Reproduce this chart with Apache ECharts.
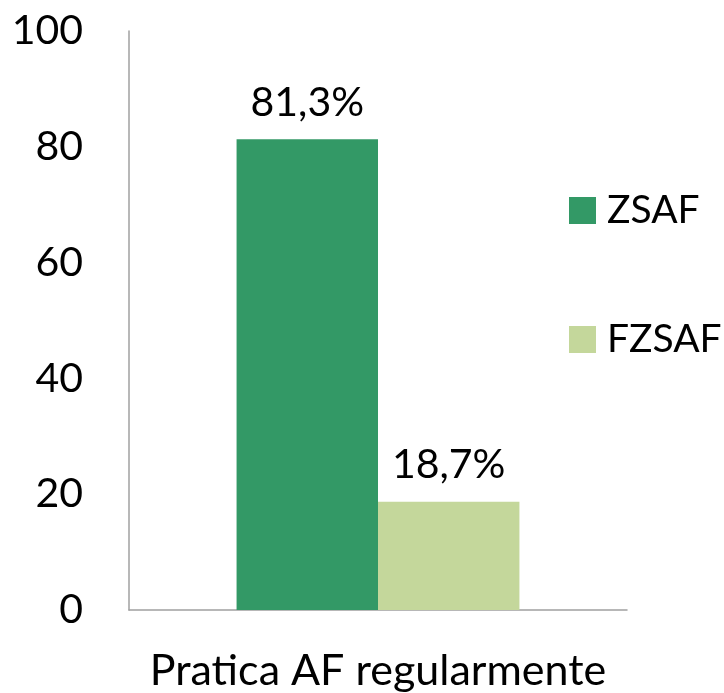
<!DOCTYPE html>
<html><head><meta charset="utf-8">
<script src="https://cdn.jsdelivr.net/npm/echarts@6/dist/echarts.min.js"></script>
<style>html,body{margin:0;padding:0;background:#fff}#c{width:724px;height:693px}</style>
</head><body><div id="c"></div>
<script>
var categories = ['Pratica AF regularmente'];
var seriesNames = ['ZSAF', 'FZSAF'];
var zsafValues = [81.3];
var fzsafValues = [18.7];
var yTicks = [0, 20, 40, 60, 80, 100];

var FONT = 'Lato';
var chart = echarts.init(document.getElementById('c'));
function fmt(p){ return p.value.toFixed(1).replace('.', ',') + '%'; }
chart.setOption({
  animation: false,
  textStyle: {fontFamily: FONT},
  grid: {left: 129, right: 97, top: 31, bottom: 83},
  legend: {
    orient: 'vertical', left: 564, top: 186,
    itemWidth: 27, itemHeight: 27, itemGap: 90,
    icon: 'rect',
    textStyle: {fontFamily: FONT, fontSize: 39, color: '#000', padding: [0,0,0,6]},
    data: seriesNames
  },
  xAxis: {
    type: 'category', data: categories,
    axisLine: {lineStyle: {color: '#a0a0a0', width: 1.5}},
    axisTick: {show: false},
    axisLabel: {fontFamily: FONT, fontSize: 43, color: '#000', margin: 40}
  },
  yAxis: {
    type: 'value', min: yTicks[0], max: yTicks[yTicks.length-1], interval: 20,
    axisLine: {show: true, lineStyle: {color: '#a0a0a0', width: 1.5}},
    axisTick: {show: false},
    splitLine: {show: false},
    axisLabel: {fontFamily: FONT, fontSize: 41, color: '#000', margin: 46}
  },
  series: [
    {name: seriesNames[0], type: 'bar', data: zsafValues, barGap: '0%', barCategoryGap: '43.2%',
     itemStyle: {color: '#339966'},
     label: {show: true, position: 'top', distance: 16, formatter: fmt, fontFamily: FONT, fontSize: 41, color: '#000'}},
    {name: seriesNames[1], type: 'bar', data: fzsafValues, barGap: '0%', barCategoryGap: '43.2%',
     itemStyle: {color: '#c4d79b'},
     label: {show: true, position: 'top', distance: 16, formatter: fmt, fontFamily: FONT, fontSize: 41, color: '#000'}}
  ]
});
</script></body></html>
